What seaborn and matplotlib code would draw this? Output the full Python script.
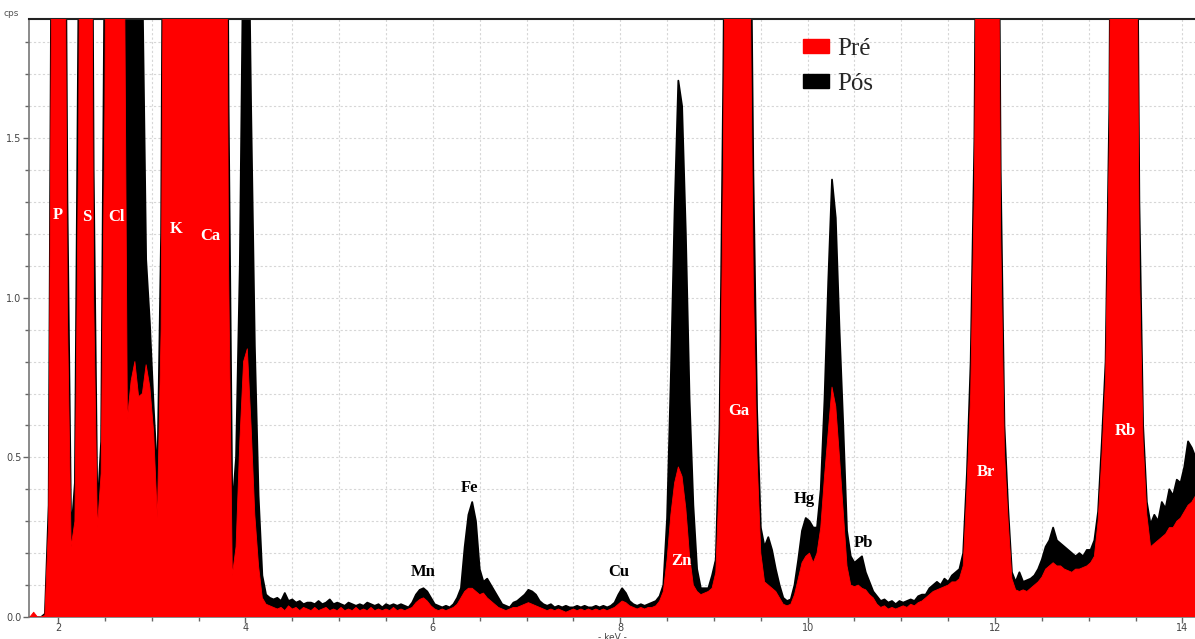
import numpy as np
import matplotlib
matplotlib.use("Agg")
import matplotlib.pyplot as plt
import seaborn as sns
from matplotlib.patches import Patch
from matplotlib.ticker import MultipleLocator, FormatStrFormatter

# ---------------- data ----------------
energy_start = 1.70   # keV, first channel
energy_step = 0.04    # keV between samples

# Pré spectrum (red), one row per keV
pre_row1 = [0, 0.015, 0, 0, 0.005, 0.30, 2.5, 4.0, 4.5, 3.0, 0.95, 0.22, 0.30, 1.5, 4.0, 5.0, 3.5, 1.0, 0.28, 0.45, 1.6, 4.0, 6.0, 6.5, 5.0]
pre_row2 = [2.5, 0.62, 0.74, 0.80, 0.69, 0.70, 0.79, 0.72, 0.58, 0.31, 0.9, 3.0, 5.0, 7.0, 9.0, 10.0, 9.0, 7.0, 5.0, 4.0, 4.0, 4.5, 5.5, 6.5, 7.0]
pre_row3 = [7.0, 5.5, 3.5, 1.1, 0.13, 0.22, 0.55, 0.80, 0.84, 0.60, 0.32, 0.16, 0.06, 0.04, 0.035, 0.03, 0.025, 0.03, 0.02, 0.035, 0.025, 0.03, 0.02, 0.03, 0.025]
pre_row4 = [0.02, 0.03, 0.02, 0.025, 0.03, 0.02, 0.025, 0.02, 0.03, 0.02, 0.025, 0.02, 0.03, 0.02, 0.025, 0.02, 0.03, 0.02, 0.025, 0.02, 0.025, 0.02, 0.03, 0.02, 0.025]
pre_row5 = [0.02, 0.025, 0.03, 0.045, 0.055, 0.06, 0.05, 0.035, 0.025, 0.02, 0.025, 0.02, 0.025, 0.03, 0.04, 0.06, 0.08, 0.09, 0.09, 0.08, 0.07, 0.075, 0.06, 0.05, 0.04]
pre_row6 = [0.03, 0.025, 0.02, 0.025, 0.03, 0.03, 0.035, 0.04, 0.045, 0.04, 0.035, 0.03, 0.025, 0.02, 0.025, 0.02, 0.025, 0.02, 0.015, 0.02, 0.025, 0.02, 0.025, 0.02, 0.025]
pre_row7 = [0.02, 0.025, 0.02, 0.025, 0.02, 0.025, 0.03, 0.04, 0.05, 0.045, 0.035, 0.03, 0.025, 0.03, 0.025, 0.03, 0.03, 0.035, 0.05, 0.08, 0.18, 0.32, 0.42, 0.47, 0.44]
pre_row8 = [0.34, 0.19, 0.10, 0.08, 0.07, 0.075, 0.08, 0.09, 0.14, 0.45, 1.4, 3.0, 5.0, 6.0, 6.2, 5.5, 4.0, 2.2, 1.05, 0.50, 0.20, 0.11, 0.10, 0.09, 0.08]
pre_row9 = [0.06, 0.04, 0.035, 0.04, 0.07, 0.12, 0.17, 0.19, 0.20, 0.17, 0.20, 0.28, 0.44, 0.58, 0.72, 0.66, 0.50, 0.33, 0.16, 0.10, 0.095, 0.10, 0.09, 0.085, 0.07]
pre_row10 = [0.06, 0.04, 0.03, 0.035, 0.025, 0.03, 0.025, 0.03, 0.035, 0.03, 0.04, 0.035, 0.045, 0.05, 0.06, 0.07, 0.08, 0.085, 0.09, 0.095, 0.10, 0.11, 0.11, 0.12, 0.16]
pre_row11 = [0.40, 0.70, 1.35, 3.0, 5.0, 6.0, 6.0, 5.0, 3.0, 1.2, 0.52, 0.30, 0.12, 0.085, 0.08, 0.085, 0.08, 0.09, 0.10, 0.11, 0.125, 0.15, 0.16, 0.17, 0.16]
pre_row12 = [0.16, 0.15, 0.145, 0.14, 0.15, 0.15, 0.155, 0.16, 0.17, 0.19, 0.30, 0.50, 0.75, 1.5, 3.5, 5.0, 6.0, 6.3, 6.0, 4.5, 2.8, 1.1, 0.55, 0.32, 0.22]
pre_row13 = [0.23, 0.24, 0.25, 0.26, 0.28, 0.28, 0.30, 0.31, 0.33, 0.35, 0.36, 0.38]

# Pós spectrum (black), one row per keV
pos_row1 = [0, 0, 0, 0, 0.01, 0.35, 2.8, 4.2, 4.7, 3.3, 1.3, 0.26, 0.42, 2.0, 4.2, 5.2, 3.8, 1.4, 0.33, 0.55, 2.2, 4.2, 6.2, 6.8, 5.5]
pos_row2 = [4.5, 3.2, 2.9, 2.6, 2.3, 2.0, 1.12, 0.92, 0.66, 0.44, 1.2, 3.5, 5.5, 7.5, 9.5, 10.5, 9.5, 7.5, 5.5, 4.5, 4.5, 5.0, 6.0, 7.0, 7.5]
pos_row3 = [7.5, 6.0, 4.0, 1.6, 0.34, 0.50, 1.1, 2.2, 2.5, 1.6, 0.85, 0.38, 0.13, 0.07, 0.06, 0.055, 0.06, 0.05, 0.075, 0.05, 0.055, 0.045, 0.05, 0.04, 0.045]
pos_row4 = [0.045, 0.04, 0.05, 0.04, 0.045, 0.055, 0.04, 0.045, 0.04, 0.035, 0.045, 0.04, 0.035, 0.04, 0.035, 0.045, 0.04, 0.035, 0.04, 0.03, 0.04, 0.035, 0.04, 0.035, 0.04]
pos_row5 = [0.035, 0.03, 0.045, 0.07, 0.085, 0.09, 0.08, 0.06, 0.04, 0.035, 0.03, 0.035, 0.03, 0.04, 0.06, 0.09, 0.22, 0.32, 0.36, 0.30, 0.15, 0.11, 0.12, 0.10, 0.08]
pos_row6 = [0.06, 0.04, 0.035, 0.03, 0.045, 0.05, 0.06, 0.07, 0.085, 0.08, 0.07, 0.05, 0.04, 0.035, 0.04, 0.03, 0.035, 0.03, 0.035, 0.03, 0.03, 0.035, 0.03, 0.035, 0.03]
pos_row7 = [0.03, 0.035, 0.03, 0.035, 0.03, 0.035, 0.045, 0.07, 0.09, 0.075, 0.05, 0.04, 0.035, 0.04, 0.035, 0.04, 0.045, 0.05, 0.065, 0.10, 0.31, 0.75, 1.27, 1.68, 1.60]
pos_row8 = [1.20, 0.68, 0.35, 0.15, 0.09, 0.09, 0.09, 0.13, 0.18, 0.60, 1.7, 3.2, 5.2, 6.2, 6.4, 5.7, 4.2, 2.6, 1.4, 0.65, 0.28, 0.22, 0.25, 0.21, 0.15]
pos_row9 = [0.10, 0.06, 0.05, 0.055, 0.10, 0.18, 0.27, 0.31, 0.30, 0.28, 0.28, 0.40, 0.68, 1.05, 1.37, 1.25, 0.90, 0.60, 0.27, 0.19, 0.17, 0.18, 0.19, 0.14, 0.11]
pos_row10 = [0.08, 0.065, 0.05, 0.055, 0.045, 0.05, 0.04, 0.05, 0.045, 0.05, 0.055, 0.05, 0.065, 0.07, 0.07, 0.09, 0.10, 0.11, 0.10, 0.12, 0.11, 0.13, 0.14, 0.15, 0.20]
pos_row11 = [0.45, 0.80, 1.50, 3.2, 5.2, 6.2, 6.2, 5.2, 3.2, 1.4, 0.60, 0.34, 0.14, 0.11, 0.14, 0.11, 0.115, 0.12, 0.13, 0.15, 0.18, 0.22, 0.24, 0.28, 0.24]
pos_row12 = [0.23, 0.22, 0.21, 0.20, 0.19, 0.20, 0.19, 0.21, 0.21, 0.24, 0.33, 0.55, 0.80, 1.6, 3.7, 5.2, 6.2, 6.5, 6.2, 4.7, 3.0, 1.3, 0.6, 0.36, 0.29]
pos_row13 = [0.32, 0.30, 0.36, 0.34, 0.40, 0.38, 0.43, 0.42, 0.47, 0.55, 0.53, 0.50]

# Element labels
peak_labels = ["P", "S", "Cl", "K", "Ca", "Mn", "Fe", "Cu", "Zn", "Ga", "Hg", "Pb", "Br", "Rb"]
peak_label_kev = [2.00, 2.31, 2.62, 3.26, 3.63, 5.90, 6.39, 7.98, 8.65, 9.27, 9.96, 10.60, 11.90, 13.39]
peak_label_cps = [1.259, 1.252, 1.252, 1.215, 1.193, 0.141, 0.404, 0.141, 0.175, 0.645, 0.369, 0.232, 0.454, 0.582]
peak_label_on_fill = [True, True, True, True, True, False, False, False, True, True, False, False, True, True]

series_names = ["Pré", "Pós"]

# ---------------- build ----------------
pre = np.array(pre_row1 + pre_row2 + pre_row3 + pre_row4 + pre_row5 + pre_row6 + pre_row7
               + pre_row8 + pre_row9 + pre_row10 + pre_row11 + pre_row12 + pre_row13)
pos = np.array(pos_row1 + pos_row2 + pos_row3 + pos_row4 + pos_row5 + pos_row6 + pos_row7
               + pos_row8 + pos_row9 + pos_row10 + pos_row11 + pos_row12 + pos_row13)
energy = np.round(energy_start + energy_step * np.arange(len(pre)), 2)

sns.set_theme(style="white")
plt.rcParams["font.family"] = ["DejaVu Sans"]
plt.rcParams["font.serif"] = ["Liberation Serif", "DejaVu Serif"]

W, H = 1195, 639
fig = plt.figure(figsize=(W / 100, H / 100), dpi=100)
ax = fig.add_axes([29 / W, 22 / H, 1166 / W, 598 / H])

RED = "#ff0000"
BLACK = "#000000"

ax.fill_between(energy, pos, 0, color=BLACK, lw=0, zorder=2)
sns.lineplot(x=energy, y=pos, ax=ax, color=BLACK, lw=1.3, zorder=2.1, sort=False)
ax.fill_between(energy, pre, 0, color=RED, lw=0, zorder=3)
sns.lineplot(x=energy, y=pre, ax=ax, color=RED, lw=0.6, zorder=3.1, sort=False)

ax.set_xlim(1.69, 14.134)
ax.set_ylim(0, 1.873)

ax.xaxis.set_major_locator(MultipleLocator(2))
ax.xaxis.set_minor_locator(MultipleLocator(0.5))
ax.yaxis.set_major_locator(MultipleLocator(0.5))
ax.yaxis.set_minor_locator(MultipleLocator(0.1))
ax.xaxis.set_major_formatter(FormatStrFormatter("%d"))
ax.yaxis.set_major_formatter(FormatStrFormatter("%.1f"))

ax.set_axisbelow(True)
ax.grid(which="both", color="#d6d6d6", lw=0.8, ls=(0, (2, 2)), zorder=0)

ax.tick_params(which="both", direction="out", color="#666666", width=1,
               labelsize=7, labelcolor="#444444", pad=1.5)
ax.tick_params(which="major", length=4)
ax.tick_params(which="minor", length=3)
ax.tick_params(axis="x", which="both", bottom=True, pad=0)
ax.tick_params(axis="y", which="both", left=True)

for side in ["left", "bottom"]:
    ax.spines[side].set_color("#777777")
    ax.spines[side].set_linewidth(1.2)
ax.spines["top"].set_color("#222222")
ax.spines["top"].set_linewidth(1.5)
ax.spines["right"].set_visible(False)
ax.set_xlabel("")
ax.set_ylabel("")

for name, xe, yc, on_fill in zip(peak_labels, peak_label_kev, peak_label_cps, peak_label_on_fill):
    ax.text(xe, yc, name, ha="center", va="center", family="serif", weight="bold",
            fontsize=12, color="white" if on_fill else BLACK, zorder=5)

fig.text(3 / W, 1 - 13 / H, "cps", fontsize=6.5, color="#555555", ha="left", va="center")
fig.text(612 / W, 1 - 638 / H, "- keV -", fontsize=6.5, color="#444444", ha="center", va="center")

handles = [Patch(facecolor=RED, edgecolor=RED, label=series_names[0]),
           Patch(facecolor=BLACK, edgecolor=BLACK, label=series_names[1])]
fig.legend(handles=handles, loc="upper left", bbox_to_anchor=(803 / W, 1 - 38 / H),
           frameon=False, prop={"family": "serif", "size": 18},
           handlelength=1.05, handleheight=0.5, handletextpad=0.32,
           labelspacing=0.5, borderpad=0, borderaxespad=0)

fig.savefig("out.png", dpi=100)
